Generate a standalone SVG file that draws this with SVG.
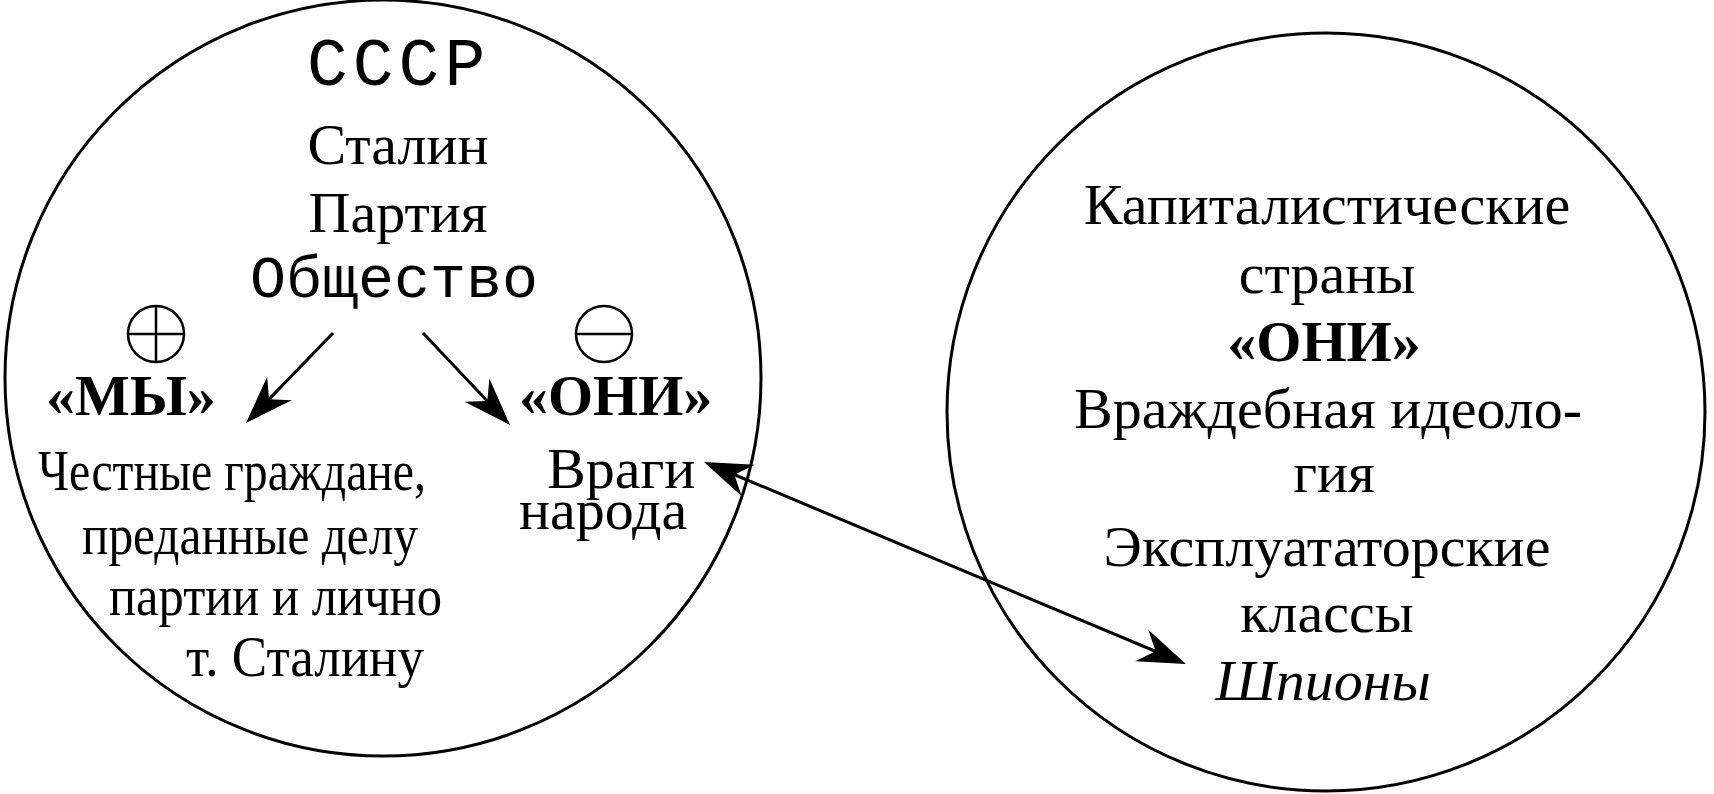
<svg xmlns="http://www.w3.org/2000/svg" width="1714" height="794" viewBox="0 0 1714 794">
<style>
.ring{fill:none;stroke:#000;stroke-width:3}
.sym{fill:none;stroke:#000;stroke-width:2.5}
.t{font-family:"Liberation Serif","Times New Roman",serif;font-size:58px;fill:#000}
.b{font-weight:bold}
.i{font-style:italic}
.m{font-family:"Liberation Mono","Courier New",monospace;fill:#000}
.c{text-anchor:middle}
.ln{stroke:#000;stroke-width:3;fill:none}
</style>
<defs>
<marker id="ah" markerUnits="userSpaceOnUse" viewBox="-44 -20 54 40" refX="0" refY="0" markerWidth="54" markerHeight="40" orient="auto-start-reverse">
<path d="M8,0 L-40,-17 L-25,0 L-40,17 Z" fill="#000"/>
</marker>
</defs>
<rect width="1714" height="794" fill="#fff"/>
<g id="ussr">
<circle class="ring" cx="383" cy="378" r="378"/>
<text class="m" x="307" y="85" font-size="68" letter-spacing="5">СССР</text>
<text class="t c" x="398" y="164">Сталин</text>
<text class="t c" x="398" y="232">Партия</text>
<text class="m" x="250" y="297" font-size="60">Общество</text>
</g>
<g id="we">
<circle class="sym" cx="156" cy="334" r="28"/>
<line class="sym" x1="128" y1="334" x2="184" y2="334"/>
<line class="sym" x1="156" y1="306" x2="156" y2="362"/>
<text class="t b" x="46" y="415">«МЫ»</text>
<text class="t" x="38" y="490" textLength="388" lengthAdjust="spacingAndGlyphs">Честные граждане,</text>
<text class="t" x="82" y="554" textLength="336" lengthAdjust="spacingAndGlyphs">преданные делу</text>
<text class="t" x="109" y="615" textLength="333" lengthAdjust="spacingAndGlyphs">партии и лично</text>
<text class="t" x="186" y="676" textLength="238" lengthAdjust="spacingAndGlyphs">т. Сталину</text>
</g>
<g id="they-inner">
<circle class="sym" cx="604" cy="334" r="28"/>
<line class="sym" x1="576" y1="334" x2="632" y2="334"/>
<text class="t b" x="519" y="415">«ОНИ»</text>
<text class="t" x="547" y="488">Враги</text>
<text class="t" x="519" y="529">народа</text>
</g>
<g id="capitalist">
<circle class="ring" cx="1326" cy="412" r="379"/>
<text class="t c" x="1327" y="224" font-size="60">Капиталистические</text>
<text class="t c" x="1327" y="293" font-size="60">страны</text>
<text class="t b c" x="1324" y="361" font-size="60">«ОНИ»</text>
<text class="t c" x="1328" y="428" font-size="60">Враждебная идеоло-</text>
<text class="t c" x="1334" y="492" font-size="60">гия</text>
<text class="t c" x="1327" y="566" font-size="60">Эксплуататорские</text>
<text class="t c" x="1327" y="632" font-size="60">классы</text>
<text class="t i c" x="1323" y="700" font-size="60">Шпионы</text>
</g>
<g id="connectors">
<line class="ln" x1="333" y1="333" x2="251.6" y2="417.2" marker-end="url(#ah)"/>
<line class="ln" x1="423" y1="333" x2="504.5" y2="419.2" marker-end="url(#ah)"/>
<line class="ln" x1="711.4" y1="465" x2="1178.6" y2="661" marker-start="url(#ah)" marker-end="url(#ah)"/>
</g>
</svg>
